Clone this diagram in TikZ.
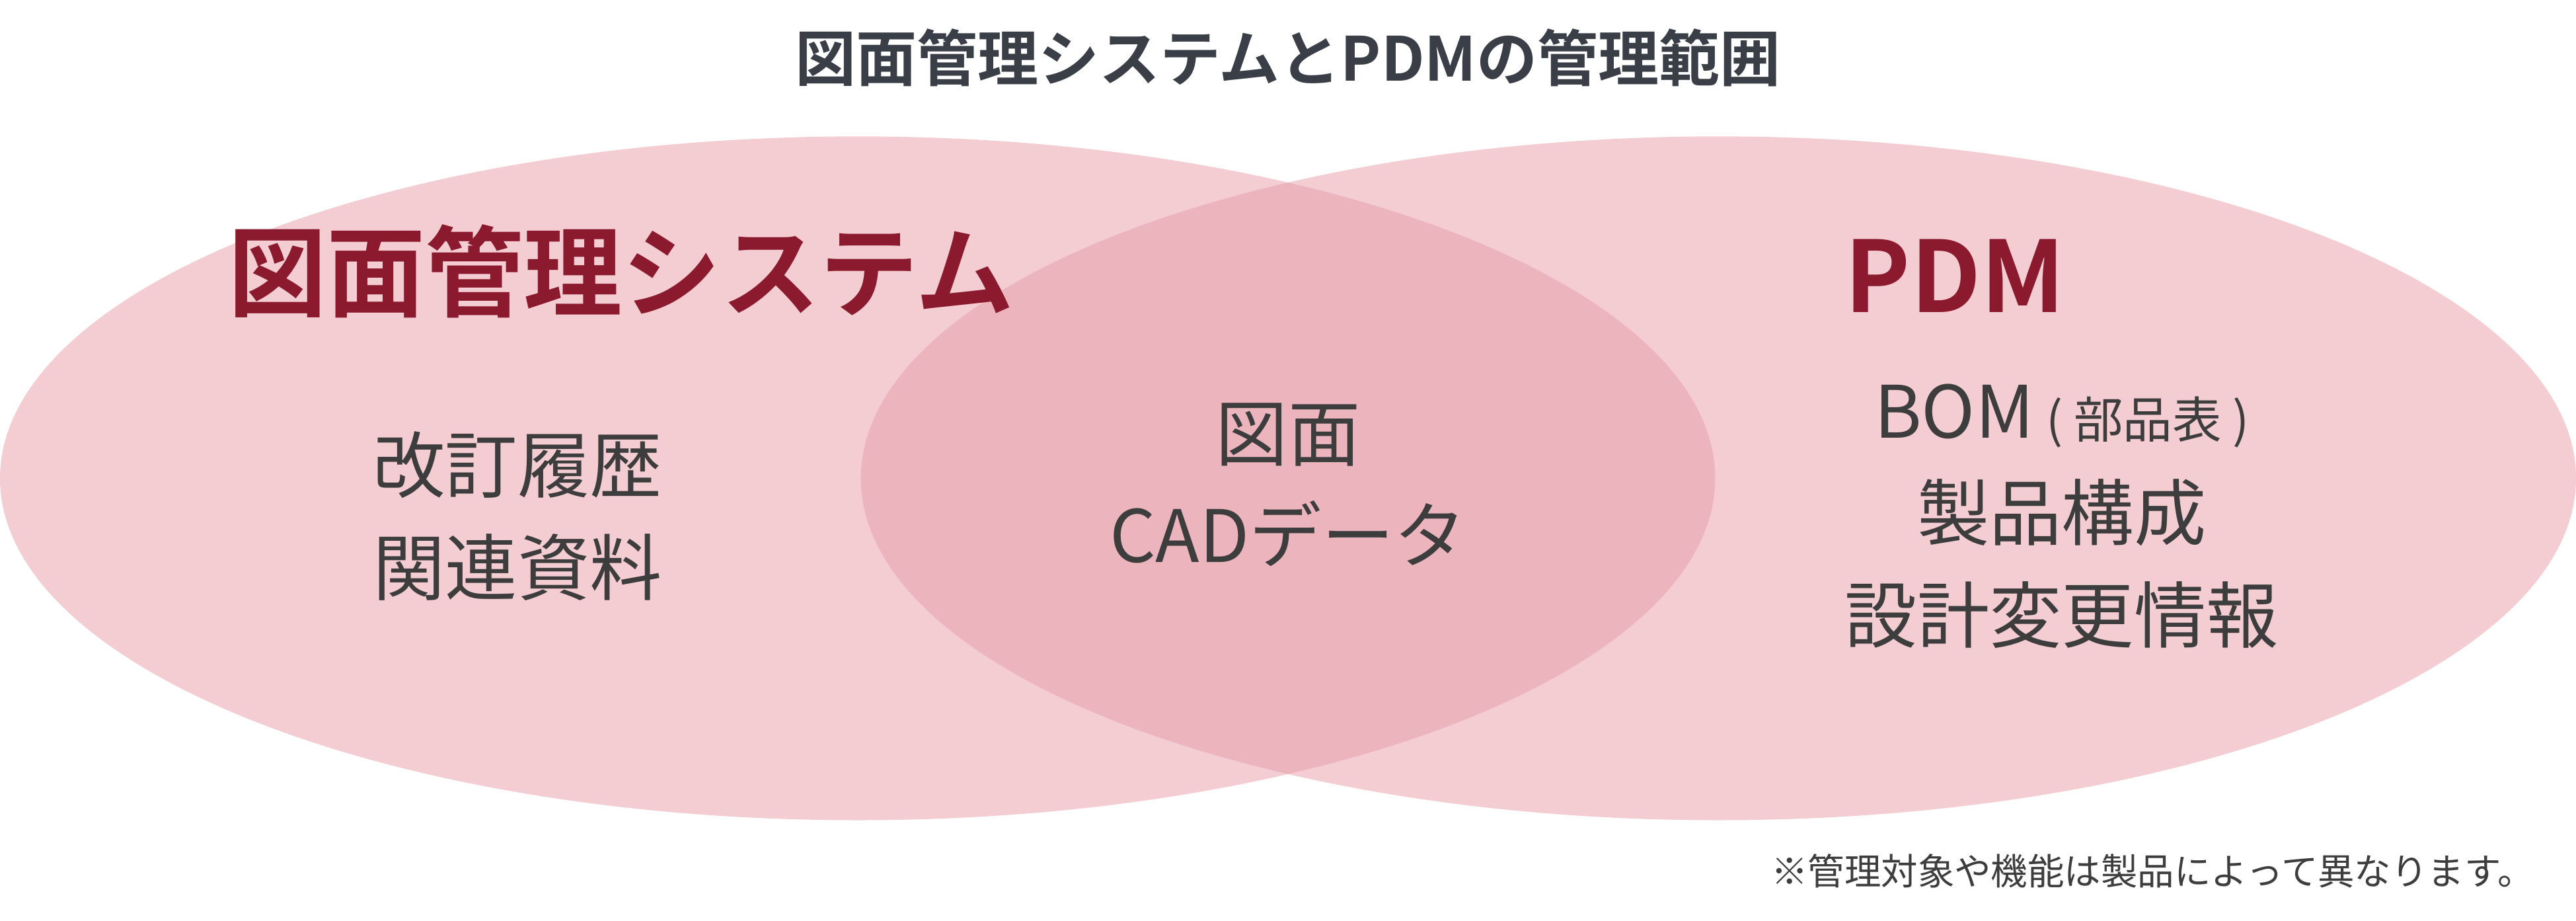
\documentclass[tikz,border=0pt]{standalone}
\usepackage{fontspec}
\newfontfamily\cjk{Noto Sans CJK JP}
\newfontfamily\cjkb{Noto Sans CJK JP Bold}
\definecolor{pinkA}{HTML}{F4CDD3}
\definecolor{pinkB}{HTML}{ECB5BD}
\definecolor{darkred}{HTML}{8B1A2E}
\definecolor{txt}{HTML}{3D3D3D}
\definecolor{ttl}{HTML}{3A3F47}
\begin{document}
\begin{tikzpicture}[x=1pt,y=-1pt,
  body/.style={font=\cjk\fontsize{44}{62}\selectfont,text=txt,align=center},
  big/.style={font=\cjkb\fontsize{60}{70}\selectfont,text=darkred}]
\useasboundingbox (0,0) rectangle (1568,560);
\fill[pinkA] (522,291) ellipse [x radius=522,y radius=208];
\fill[pinkA] (1046,291) ellipse [x radius=522,y radius=208];
\begin{scope}
\clip (522,291) ellipse [x radius=522,y radius=208];
\fill[pinkB] (1046,291) ellipse [x radius=522,y radius=208];
\end{scope}
\node[font=\cjkb\fontsize{37}{44}\selectfont,text=ttl] (title) at (784,35) {図面管理システムとPDMの管理範囲};
\node[big] (lt) at (378,165) {図面管理システム};
\node[big] (rt) at (1190,168) {PDM};
\node[body] (lb) at (315,314) {改訂履歴\\関連資料};
\node[body] (cb) at (784,295) {図面\\CADデータ};
\node[body] (rb) at (1255,314) {BOM\,{\fontsize{30}{36}\selectfont ( 部品表 )}\\製品構成\\設計変更情報};
\node[font=\cjk\fontsize{22.3}{26}\selectfont,text=txt,anchor=east] (fn) at (1546,530) {※管理対象や機能は製品によって異なります。};
\end{tikzpicture}
\end{document}
